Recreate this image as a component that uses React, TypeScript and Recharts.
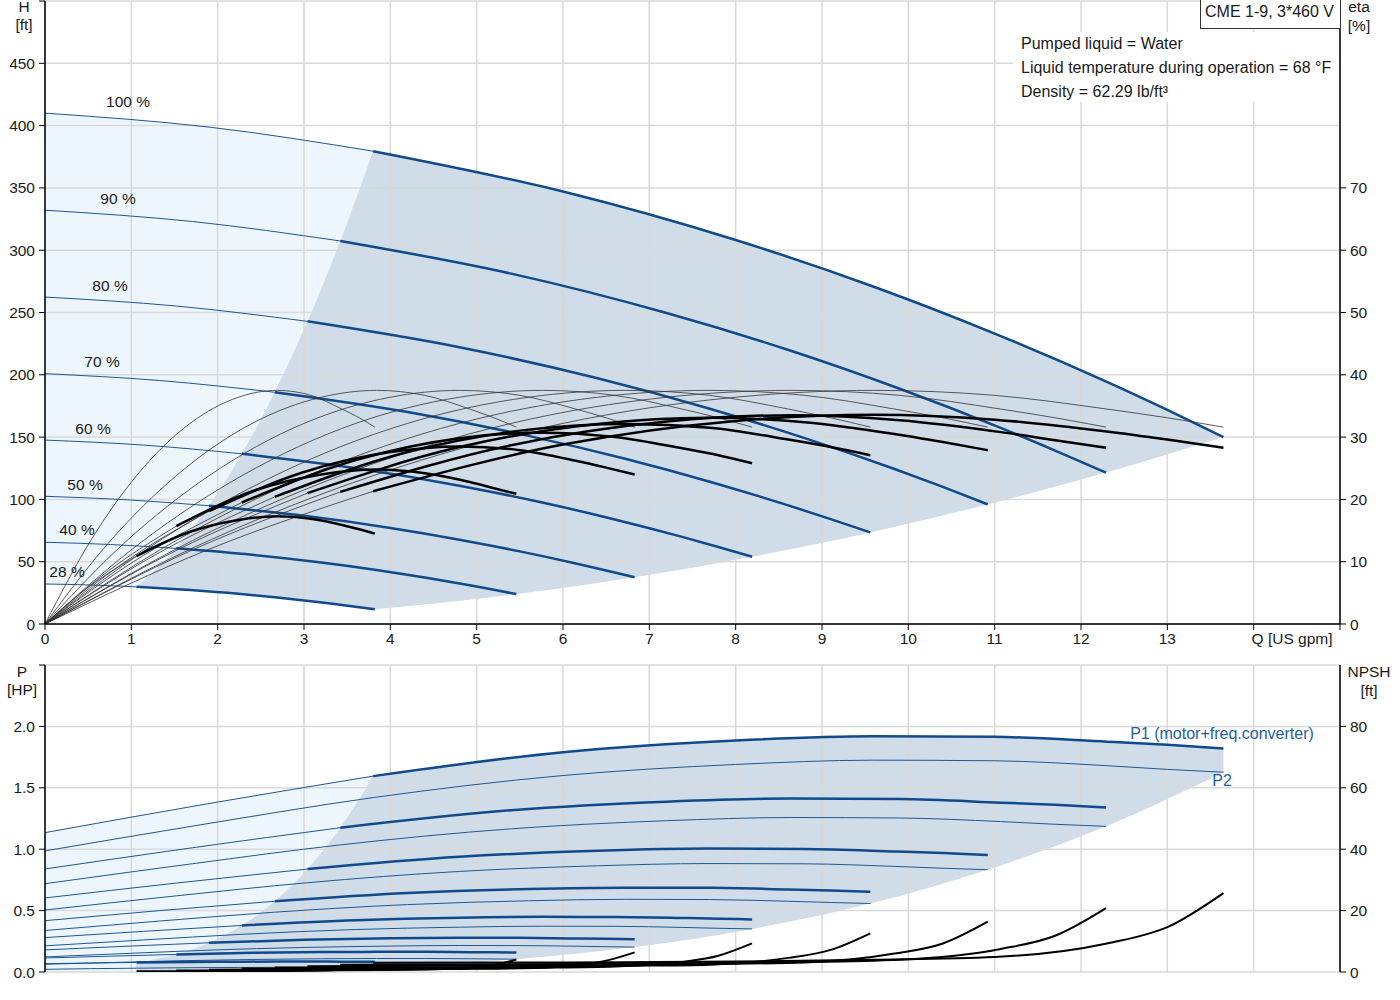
import { ComposedChart, Line, Area, XAxis, YAxis, CartesianGrid, ReferenceLine } from "recharts";

const FONT = '"Liberation Sans", Arial, sans-serif';
const BLUE = "#0f4a8c";
const BLUE_THIN = "#1d5796";
const LIGHT = "#eef6fd";
const DARK = "#d0dce8";
const GRID = "#d9d9d9";

// speed curves, 100 % down to 28 %
const SPEEDS = ["100 %", "90 %", "80 %", "70 %", "60 %", "50 %", "40 %", "28 %"];

const X_TICKS = [0, 1, 2, 3, 4, 5, 6, 7, 8, 9, 10, 11, 12, 13, 14, 15];
const H_TICKS = [0, 50, 100, 150, 200, 250, 300, 350, 400, 450, 500];
const ETA_TICKS = [0, 10, 20, 30, 40, 50, 60, 70];
const P_TICKS = [0, 0.5, 1, 1.5, 2, 2.5];
const NPSH_TICKS = [0, 20, 40, 60, 80];

// flow points [US gpm] of each speed curve (index 2 = min flow, last = max flow)
const FLOW = [
  [0, 1.9, 3.8, 6, 8, 9.6, 11, 12.3, 13, 13.65],
  [0, 1.71, 3.42, 5.4, 7.2, 8.64, 9.9, 11.07, 11.7, 12.29],
  [0, 1.52, 3.04, 4.8, 6.4, 7.68, 8.8, 9.84, 10.4, 10.92],
  [0, 1.33, 2.66, 4.2, 5.6, 6.72, 7.7, 8.61, 9.1, 9.56],
  [0, 1.14, 2.28, 3.6, 4.8, 5.76, 6.6, 7.38, 7.8, 8.19],
  [0, 0.95, 1.9, 3, 4, 4.8, 5.5, 6.15, 6.5, 6.83],
  [0, 0.76, 1.52, 2.4, 3.2, 3.84, 4.4, 4.92, 5.2, 5.46],
  [0, 0.53, 1.06, 1.68, 2.24, 2.69, 3.08, 3.44, 3.64, 3.82],
];

// head [ft]
const HEAD = [
  [410, 398.8, 379.5, 347.1, 308.2, 270.7, 233.1, 194.3, 171.8, 150],
  [332.1, 323.0, 307.4, 281.2, 249.6, 219.3, 188.8, 157.4, 139.2, 121.5],
  [262.4, 255.2, 242.9, 222.1, 197.2, 173.2, 149.2, 124.4, 110.0, 96.0],
  [200.9, 195.4, 186.0, 170.1, 151.0, 132.6, 114.2, 95.2, 84.2, 73.5],
  [147.6, 143.6, 136.6, 125.0, 111.0, 97.5, 83.9, 69.9, 61.8, 54.0],
  [102.5, 99.7, 94.9, 86.8, 77.1, 67.7, 58.3, 48.6, 43.0, 37.5],
  [65.6, 63.8, 60.7, 55.5, 49.3, 43.3, 37.3, 31.1, 27.5, 24.0],
  [32.1, 31.3, 29.8, 27.2, 24.2, 21.2, 18.3, 15.2, 13.5, 11.8],
];

// pump efficiency [%], same at the matching points of every speed
const ETA_PUMP = [0, 13.4, 23.8, 32.2, 36.4, 37.5, 36.7, 34.5, 33.1, 31.6];

// total efficiency [%]
const ETA_TOTAL = [
  [0, 12.0, 21.3, 28.8, 32.6, 33.6, 32.8, 30.9, 29.6, 28.3],
  [0, 11.9, 21.2, 28.7, 32.5, 33.5, 32.7, 30.8, 29.5, 28.3],
  [0, 11.8, 21.0, 28.4, 32.1, 33.1, 32.4, 30.5, 29.2, 27.9],
  [0, 11.5, 20.4, 27.6, 31.2, 32.1, 31.5, 29.6, 28.4, 27.1],
  [0, 11.0, 19.5, 26.3, 29.8, 30.7, 30.0, 28.2, 27.1, 25.8],
  [0, 10.2, 18.1, 24.4, 27.6, 28.5, 27.9, 26.2, 25.1, 24.0],
  [0, 8.8, 15.7, 21.3, 24.0, 24.8, 24.2, 22.8, 21.8, 20.9],
  [0, 6.2, 10.9, 14.8, 16.7, 17.3, 16.9, 15.9, 15.2, 14.5],
];

// P1 motor + freq. converter [HP]
const P1 = [
  [1.135, 1.372, 1.595, 1.79, 1.886, 1.92, 1.915, 1.875, 1.85, 1.82],
  [0.839, 1.012, 1.175, 1.317, 1.387, 1.412, 1.408, 1.379, 1.361, 1.339],
  [0.603, 0.724, 0.838, 0.938, 0.987, 1.005, 1.002, 0.982, 0.969, 0.953],
  [0.418, 0.5, 0.576, 0.643, 0.676, 0.687, 0.686, 0.672, 0.663, 0.653],
  [0.28, 0.331, 0.379, 0.421, 0.442, 0.449, 0.448, 0.44, 0.434, 0.428],
  [0.18, 0.21, 0.238, 0.262, 0.274, 0.279, 0.278, 0.273, 0.27, 0.266],
  [0.114, 0.129, 0.143, 0.156, 0.162, 0.164, 0.164, 0.161, 0.16, 0.158],
  [0.068, 0.073, 0.078, 0.082, 0.084, 0.085, 0.085, 0.084, 0.084, 0.083],
];

// P2 shaft power [HP]
const P2 = [
  [0.986, 1.21, 1.42, 1.6, 1.69, 1.725, 1.72, 1.68, 1.65, 1.627],
  [0.719, 0.882, 1.035, 1.166, 1.232, 1.258, 1.254, 1.225, 1.203, 1.186],
  [0.505, 0.62, 0.727, 0.819, 0.865, 0.883, 0.881, 0.86, 0.845, 0.833],
  [0.338, 0.415, 0.487, 0.549, 0.58, 0.592, 0.59, 0.576, 0.566, 0.558],
  [0.213, 0.261, 0.307, 0.346, 0.365, 0.373, 0.372, 0.363, 0.356, 0.351],
  [0.123, 0.151, 0.178, 0.2, 0.211, 0.216, 0.215, 0.21, 0.206, 0.203],
  [0.063, 0.077, 0.091, 0.102, 0.108, 0.11, 0.11, 0.108, 0.106, 0.104],
  [0.022, 0.027, 0.031, 0.035, 0.037, 0.038, 0.038, 0.037, 0.036, 0.036],
];

// NPSH [ft], from min flow to max flow
const NPSH = [
  [3.0, 3.1, 3.4, 4.0, 4.9, 9.3, 14.6, 25.7],
  [2.4, 2.5, 2.8, 3.2, 4.0, 7.5, 11.8, 20.8],
  [1.9, 2.0, 2.2, 2.6, 3.1, 6.0, 9.3, 16.4],
  [1.5, 1.5, 1.7, 2.0, 2.4, 4.6, 7.2, 12.6],
  [1.1, 1.1, 1.2, 1.4, 1.8, 3.3, 5.3, 9.3],
  [0.75, 0.8, 0.85, 1.0, 1.2, 2.3, 3.7, 6.4],
  [0.5, 0.5, 0.55, 0.64, 0.8, 1.5, 2.3, 4.1],
  [0.24, 0.24, 0.27, 0.31, 0.38, 0.73, 1.14, 2.0],
];

const MIN = 2;
const LAST = FLOW[0].length - 1;
const Q_MAX = FLOW[0][LAST];

type Pt = { q: number; v: number };

const series = (i: number, vals: number[], from = 0, to = vals.length): Pt[] =>
  FLOW[i].slice(from, to).map((q, k) => ({ q, v: vals[from + k] }));

const npshSeries = (i: number): Pt[] => FLOW[i].slice(MIN).map((q, k) => ({ q, v: NPSH[i][k] }));

const pointsAt = (table: number[][], idx: number): Pt[] =>
  SPEEDS.map((_, i) => ({ q: FLOW[i][idx], v: table[i][idx] })).reverse();

// shaded operating range: light = below min flow, dark = allowed range, white mask below it
const topLight = series(0, HEAD[0], 0, MIN + 1);
const topDarkA = pointsAt(HEAD, MIN);
const topDarkB = series(0, HEAD[0], MIN);
const topMaskA = series(7, HEAD[7]);
const topMaskB = pointsAt(HEAD, LAST);
const botLight = series(0, P1[0], 0, MIN + 1);
const botDarkA = pointsAt(P1, MIN);
const botDarkB = series(0, P1[0], MIN);
const botMask = pointsAt(P2, LAST);

const tick = { fill: "#1a1a1a", fontSize: 15.5, fontFamily: FONT };
const axisLine = { stroke: "#000", strokeWidth: 1.5 };

function Txt({ x, y, children, anchor = "middle", color = "#1a1a1a", size = 15.5 }: any) {
  const tx = anchor === "middle" ? "-50%" : anchor === "end" ? "-100%" : "0";
  return (
    <div
      style={{
        position: "absolute",
        left: x,
        top: y,
        transform: `translate(${tx}, -50%)`,
        whiteSpace: "nowrap",
        fontSize: size,
        lineHeight: 1,
        color,
        fontFamily: FONT,
      }}
    >
      {children}
    </div>
  );
}

function curve(key: string, data: Pt[], axis: string, stroke: string, width: number) {
  return (
    <Line
      key={key}
      yAxisId={axis}
      data={data}
      dataKey="v"
      type="monotone"
      stroke={stroke}
      strokeWidth={width}
      dot={false}
      activeDot={false}
      isAnimationActive={false}
    />
  );
}

function band(key: string, data: Pt[], axis: string, fill: string) {
  return (
    <Area
      key={key}
      yAxisId={axis}
      data={data}
      dataKey="v"
      type="monotone"
      fill={fill}
      fillOpacity={1}
      stroke="none"
      dot={false}
      activeDot={false}
      isAnimationActive={false}
    />
  );
}

const SPEED_LABEL_POS = [
  [128, 102], [118, 199], [110, 286], [102, 362], [93, 429], [85, 485], [77, 530], [67, 572],
];

export default function App() {
  return (
    <div style={{ position: "absolute", left: 0, top: 0, width: 1400, height: 1000, background: "#fff", fontFamily: FONT }}>
      <div style={{ position: "absolute", left: 0, top: 0 }}>
        <ComposedChart width={1400} height={650} margin={{ top: 1, right: 0, bottom: 0, left: 0 }}>
          <XAxis
            type="number"
            dataKey="q"
            domain={[0, 15]}
            ticks={X_TICKS}
            allowDataOverflow
            interval={0}
            height={26}
            tickSize={6}
            tickMargin={3}
            tickLine={{ stroke: "#000" }}
            axisLine={axisLine}
            tick={tick}
            tickFormatter={(v: number) => (v <= 13 ? String(v) : "")}
          />
          <YAxis
            yAxisId="h"
            type="number"
            domain={[0, 500]}
            ticks={H_TICKS}
            allowDataOverflow
            interval={0}
            width={45}
            tickSize={6}
            tickMargin={4}
            axisLine={axisLine}
            tickLine={{ stroke: "#000" }}
            tick={tick}
            tickFormatter={(v: number) => (v < 500 ? String(v) : "")}
          />
          <YAxis
            yAxisId="eta"
            orientation="right"
            type="number"
            domain={[0, 100]}
            ticks={ETA_TICKS}
            allowDataOverflow
            interval={0}
            width={60}
            tickSize={6}
            tickMargin={4}
            axisLine={axisLine}
            tickLine={{ stroke: "#000" }}
            tick={tick}
          />
          {band("tl", topLight, "h", LIGHT)}
          {band("tda", topDarkA, "h", DARK)}
          {band("tdb", topDarkB, "h", DARK)}
          {band("tma", topMaskA, "h", "#ffffff")}
          {band("tmb", topMaskB, "h", "#ffffff")}
          <ReferenceLine
            yAxisId="h"
            segment={[{ x: Q_MAX, y: 0 }, { x: Q_MAX, y: HEAD[0][LAST] - 2 }]}
            stroke="#ffffff"
            strokeWidth={2}
            zIndex={120}
          />
          <CartesianGrid yAxisId="h" stroke={GRID} strokeWidth={1.5} zIndex={150} />
          {SPEEDS.map((s, i) => curve(`ht${s}`, series(i, HEAD[i], 0, MIN + 1), "h", BLUE_THIN, 1))}
          {SPEEDS.map((s, i) => curve(`hk${s}`, series(i, HEAD[i], MIN), "h", BLUE, 2.5))}
          {SPEEDS.map((s, i) => curve(`ep${s}`, series(i, ETA_PUMP), "eta", "#333", 0.8))}
          {SPEEDS.map((s, i) => curve(`et${s}`, series(i, ETA_TOTAL[i], 0, MIN + 1), "eta", "#333", 0.8))}
          {SPEEDS.map((s, i) => curve(`ek${s}`, series(i, ETA_TOTAL[i], MIN), "eta", "#000", 2.5))}
        </ComposedChart>
      </div>

      <div style={{ position: "absolute", left: 0, top: 640 }}>
        <ComposedChart width={1400} height={340} margin={{ top: 25, right: 0, bottom: 8, left: 0 }}>
          <XAxis type="number" dataKey="q" domain={[0, 15]} ticks={X_TICKS} allowDataOverflow hide />
          <YAxis
            yAxisId="p"
            type="number"
            domain={[0, 2.5]}
            ticks={P_TICKS}
            allowDataOverflow
            interval={0}
            width={45}
            tickSize={6}
            tickMargin={4}
            axisLine={axisLine}
            tickLine={{ stroke: "#000" }}
            tick={tick}
            tickFormatter={(v: number) => (v < 2.5 ? v.toFixed(1) : "")}
          />
          <YAxis
            yAxisId="npsh"
            orientation="right"
            type="number"
            domain={[0, 100]}
            ticks={NPSH_TICKS}
            allowDataOverflow
            interval={0}
            width={60}
            tickSize={6}
            tickMargin={4}
            axisLine={axisLine}
            tickLine={{ stroke: "#000" }}
            tick={tick}
          />
          {band("bl", botLight, "p", LIGHT)}
          {band("bda", botDarkA, "p", DARK)}
          {band("bdb", botDarkB, "p", DARK)}
          {band("bm", botMask, "p", "#ffffff")}
          <ReferenceLine
            yAxisId="p"
            segment={[{ x: Q_MAX, y: 0 }, { x: Q_MAX, y: P2[0][LAST] - 0.02 }]}
            stroke="#ffffff"
            strokeWidth={2}
            zIndex={120}
          />
          <CartesianGrid yAxisId="p" stroke={GRID} strokeWidth={1.5} zIndex={150} />
          {SPEEDS.map((s, i) => curve(`p2${s}`, series(i, P2[i]), "p", BLUE_THIN, 1))}
          {SPEEDS.map((s, i) => curve(`pt${s}`, series(i, P1[i], 0, MIN + 1), "p", BLUE_THIN, 1))}
          {SPEEDS.map((s, i) => curve(`pk${s}`, series(i, P1[i], MIN), "p", BLUE, 2.5))}
          {SPEEDS.map((s, i) => curve(`n${s}`, npshSeries(i), "npsh", "#000", 2))}
        </ComposedChart>
      </div>

      {/* axis titles */}
      <Txt x={24} y={7}>H</Txt>
      <Txt x={24} y={25}>[ft]</Txt>
      <Txt x={1359} y={7}>eta</Txt>
      <Txt x={1359} y={26}>[%]</Txt>
      <Txt x={1292} y={639}>Q [US gpm]</Txt>
      <Txt x={22} y={672}>P</Txt>
      <Txt x={22} y={690}>[HP]</Txt>
      <Txt x={1369} y={672}>NPSH</Txt>
      <Txt x={1369} y={691}>[ft]</Txt>

      {/* info box */}
      <div style={{ position: "absolute", left: 1013, top: 32, width: 326, height: 70, background: "#fff" }} />
      <Txt x={1021} y={44} anchor="start" size={16}>Pumped liquid = Water</Txt>
      <Txt x={1021} y={68} anchor="start" size={16}>Liquid temperature during operation = 68 °F</Txt>
      <Txt x={1021} y={92} anchor="start" size={16}>Density = 62.29 lb/ft³</Txt>
      <div
        style={{
          position: "absolute",
          left: 1200,
          top: 0,
          width: 139,
          height: 28,
          background: "#fff",
          border: "1px solid #333",
          borderTop: "none",
        }}
      />
      <Txt x={1205} y={12} anchor="start" size={16}>CME 1-9, 3*460 V</Txt>

      {SPEEDS.map((s, i) => (
        <Txt key={s} x={SPEED_LABEL_POS[i][0]} y={SPEED_LABEL_POS[i][1]}>
          {s}
        </Txt>
      ))}
      <Txt x={1222} y={734} color="#1f5fa0" size={16}>P1 (motor+freq.converter)</Txt>
      <Txt x={1222} y={781} color="#1f5fa0" size={16}>P2</Txt>
    </div>
  );
}
